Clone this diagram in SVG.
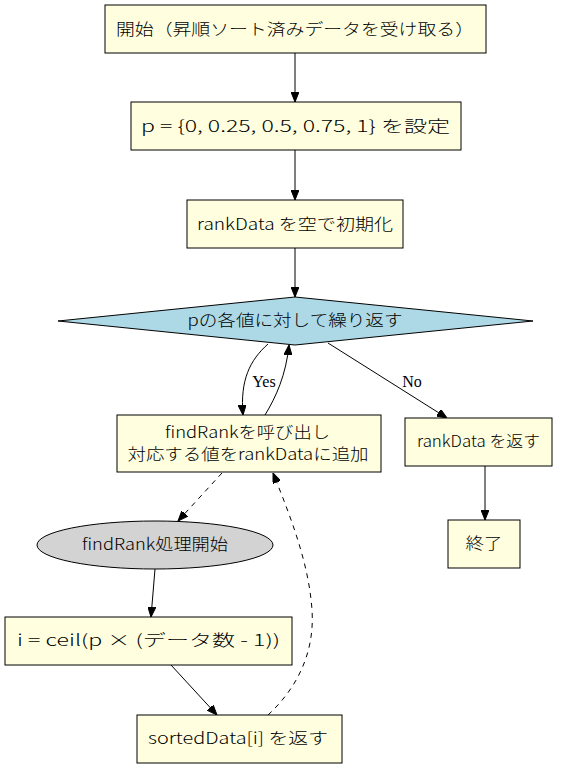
<svg xmlns="http://www.w3.org/2000/svg" width="570" height="769" viewBox="0 0 570 769">
<defs>
<style>
.box{fill:#ffffe0;stroke:#000;stroke-width:1}
.dia{fill:#add8e6;stroke:#000;stroke-width:1}
.ell{fill:#d3d3d3;stroke:#000;stroke-width:1}
.t{font-family:"Noto Sans CJK JP","DejaVu Sans",sans-serif;font-size:16px;font-weight:300;fill:#000;text-anchor:middle}
.lbl{font-family:"Liberation Serif","DejaVu Serif",serif;font-size:16px;fill:#000;text-anchor:middle}
.e{fill:none;stroke:#000;stroke-width:1}
.d{stroke-dasharray:5,5}
</style>
<marker id="ah" markerWidth="10" markerHeight="8" refX="10" refY="4" orient="auto" markerUnits="userSpaceOnUse">
<path d="M0,0 L10,4 L0,8 z" fill="#000" stroke="#000" stroke-width="1"/>
</marker>
</defs>
<rect width="570" height="769" fill="#fff"/>
<g id="edges">
<path class="e" d="M295,53 L295,102" marker-end="url(#ah)"/>
<path class="e" d="M295,150 L295,200" marker-end="url(#ah)"/>
<path class="e" d="M295,248 L295,297" marker-end="url(#ah)"/>
<path class="e" d="M268,344 C250,360 240,380 243,415" marker-end="url(#ah)"/>
<path class="e" d="M265,415 C276,397 286,375 289,345" marker-end="url(#ah)"/>
<path class="e" d="M328,343 L447,418" marker-end="url(#ah)"/>
<path class="e" d="M485,466 L485,520" marker-end="url(#ah)"/>
<path class="e d" d="M222,473 L178,521" marker-end="url(#ah)"/>
<path class="e" d="M155,569 L151,617" marker-end="url(#ah)"/>
<path class="e" d="M171,665 L217,715" marker-end="url(#ah)"/>
<path class="e d" d="M268,715 C295,690 315,655 312,610 C309,565 292,520 273,473" marker-end="url(#ah)"/>
<text class="lbl" x="264" y="387">Yes</text>
<text class="lbl" x="412" y="387">No</text>
</g>
<g id="start">
<rect class="box" x="105" y="5" width="381" height="48"/>
<text class="t" x="295" y="35" textLength="358" lengthAdjust="spacingAndGlyphs">開始（昇順ソート済みデータを受け取る）</text>
</g>
<g id="setp">
<rect class="box" x="131" y="102" width="330" height="48"/>
<text class="t" x="295.5" y="132" textLength="309" lengthAdjust="spacingAndGlyphs">p = {0, 0.25, 0.5, 0.75, 1} を設定</text>
</g>
<g id="init">
<rect class="box" x="187" y="200" width="216" height="48"/>
<text class="t" x="295" y="230" textLength="196" lengthAdjust="spacingAndGlyphs">rankData を空で初期化</text>
</g>
<g id="loop">
<polygon class="dia" points="295,297 533,321 295,345 58,321"/>
<text class="t" x="295" y="326" textLength="215" lengthAdjust="spacingAndGlyphs">pの各値に対して繰り返す</text>
</g>
<g id="call">
<rect class="box" x="117" y="415" width="264" height="57"/>
<text class="t" x="247.5" y="438" textLength="165" lengthAdjust="spacingAndGlyphs">findRankを呼び出し</text>
<text class="t" x="248" y="460" textLength="241" lengthAdjust="spacingAndGlyphs">対応する値をrankDataに追加</text>
</g>
<g id="ret">
<rect class="box" x="405" y="418" width="147" height="48"/>
<text class="t" x="478.5" y="447" textLength="123" lengthAdjust="spacingAndGlyphs">rankData を返す</text>
</g>
<g id="end">
<rect class="box" x="448" y="520" width="72" height="48"/>
<text class="t" x="484" y="549" textLength="37" lengthAdjust="spacingAndGlyphs">終了</text>
</g>
<g id="fr">
<ellipse class="ell" cx="155" cy="545" rx="118" ry="24"/>
<text class="t" x="155" y="550" textLength="146" lengthAdjust="spacingAndGlyphs">findRank処理開始</text>
</g>
<g id="calc">
<rect class="box" x="5" y="617" width="287" height="48"/>
<text class="t" x="148.5" y="646" textLength="263" lengthAdjust="spacingAndGlyphs">i = ceil(p × (データ数 - 1))</text>
</g>
<g id="sd">
<rect class="box" x="137" y="715" width="205" height="48"/>
<text class="t" x="238" y="744" textLength="180" lengthAdjust="spacingAndGlyphs">sortedData[i] を返す</text>
</g>
</svg>
